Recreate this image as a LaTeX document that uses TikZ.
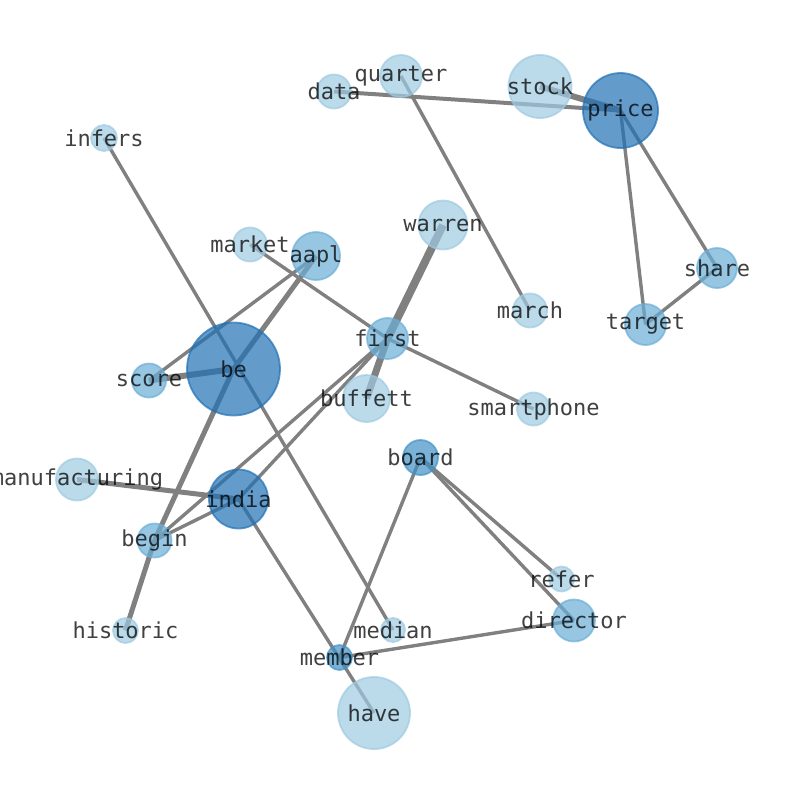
\documentclass[tikz,border=0pt]{standalone}
\usepackage{fontspec}
\setmonofont{DejaVu Sans Mono}
\usetikzlibrary{backgrounds}
\definecolor{blueA}{HTML}{9ECAE1}
\definecolor{blueB}{HTML}{6BAED6}
\definecolor{blueC}{HTML}{4292C6}
\definecolor{blueD}{HTML}{2171B5}
\definecolor{edgegray}{HTML}{808080}
\begin{document}
\begin{tikzpicture}[x=1pt,y=-1pt,
  word/.style={circle, inner sep=0pt, minimum size=#1, opacity=0.7, line width=1.8pt},
  lightw/.style={word=#1, fill=blueA, draw=blueA},
  midw/.style={word=#1, fill=blueB, draw=blueB},
  deepw/.style={word=#1, fill=blueC, draw=blueC},
  darkw/.style={word=#1, fill=blueD, draw=blueD},
  link/.style={draw=edgegray, line width=3.4pt},
  lbl/.style={text=black, text opacity=0.75, inner sep=0pt, font=\ttfamily\fontsize{22}{26}\selectfont}]
  \useasboundingbox (0,0) rectangle (794,790);

  % word nodes
  \node[lightw=34pt] (data) at (334,91.5) {};
  \node[lightw=42pt] (quarter) at (401,76) {};
  \node[lightw=63pt] (stock) at (540,86.5) {};
  \node[darkw=75pt] (price) at (620.5,110.5) {};
  \node[lightw=26pt] (infers) at (104,138) {};
  \node[lightw=49pt] (warren) at (443,225) {};
  \node[lightw=34pt] (market) at (250,244.5) {};
  \node[midw=48pt] (aapl) at (316,256) {};
  \node[midw=40pt] (share) at (717,268) {};
  \node[lightw=34pt] (march) at (530,310.5) {};
  \node[midw=41pt] (target) at (645.5,324.5) {};
  \node[midw=41pt] (first) at (387.5,338.5) {};
  \node[darkw=93pt] (be) at (233.5,369) {};
  \node[midw=34pt] (score) at (149,380.5) {};
  \node[lightw=47pt] (buffett) at (366.5,398.5) {};
  \node[lightw=33pt] (smartphone) at (533.5,409) {};
  \node[deepw=35pt] (board) at (420.5,457.5) {};
  \node[lightw=42pt] (manufacturing) at (77,479.5) {};
  \node[darkw=59pt] (india) at (238.5,499) {};
  \node[midw=34pt] (begin) at (154.5,540.5) {};
  \node[lightw=25pt] (refer) at (561.5,579) {};
  \node[midw=42pt] (director) at (574,620.5) {};
  \node[lightw=25pt] (historic) at (125.5,630.5) {};
  \node[lightw=24pt] (median) at (393,630) {};
  \node[deepw=25pt] (member) at (339.5,657.5) {};
  \node[lightw=72pt] (have) at (374,713) {};

  % labels on top of all circles
  \foreach \w in {data,quarter,stock,price,infers,warren,market,aapl,share,march,
    target,first,be,score,buffett,smartphone,board,manufacturing,india,begin,
    refer,director,historic,median,member,have}
    \node[lbl] (\w-t) at (\w.center) {\w};

  % links, under the circles
  \begin{pgfonlayer}{background}
    \draw[link, line width=4pt] (data.center)--(price.center);
    \draw[link, line width=6pt] (stock.center)--(price.center);
    \draw[link] (quarter.center)--(march.center);
    \draw[link] (price.center)--(share.center);
    \draw[link] (price.center)--(target.center);
    \draw[link] (target.center)--(share.center);
    \draw[link] (infers.center)--(median.center);
    \draw[link, line width=8pt] (warren.center)--(first.center);
    \draw[link, line width=7pt] (first.center)--(buffett.center);
    \draw[link] (market.center)--(first.center);
    \draw[link] (first.center)--(smartphone.center);
    \draw[link] (aapl.center)--(score.center);
    \draw[link, line width=5pt] (aapl.center)--(be.center);
    \draw[link, line width=6pt] (be.center)--(score.center);
    \draw[link, line width=5pt] (be.center)--(begin.center);
    \draw[link] (begin.center)--(first.center);
    \draw[link] (india.center)--(first.center);
    \draw[link] (india.center)--(begin.center);
    \draw[link, line width=5pt] (manufacturing.center)--(india.center);
    \draw[link, line width=5pt] (begin.center)--(historic.center);
    \draw[link] (india.center)--(have.center);
    \draw[link] (board.center)--(member.center);
    \draw[link] (board.center)--(refer.center);
    \draw[link] (board.center)--(director.center);
    \draw[link] (member.center)--(director.center);
  \end{pgfonlayer}
\end{tikzpicture}
\end{document}
